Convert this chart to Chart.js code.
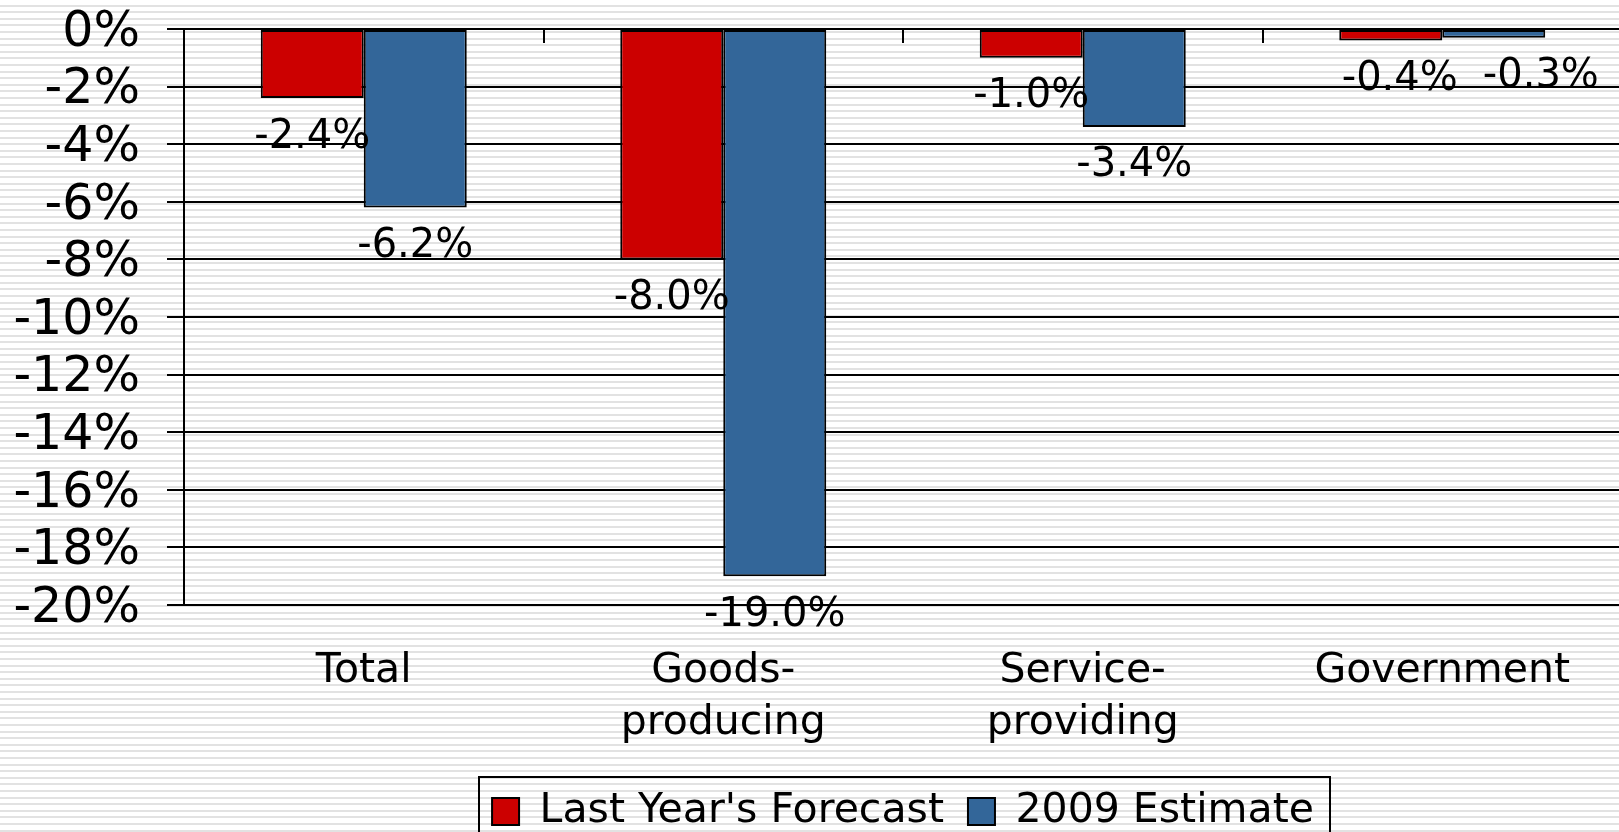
<!DOCTYPE html>
<html>
<head>
<meta charset="utf-8">
<script src="https://cdn.jsdelivr.net/npm/chart.js@4.4.0/dist/chart.umd.min.js"></script>
<style>
  html, body { margin: 0; padding: 0; overflow: hidden; }
  body {
    width: 1619px;
    height: 832px;
    background: repeating-linear-gradient(to bottom, #fff 0px, #fff 4.6px, #e2e2e2 4.6px, #e2e2e2 6.6px);
  }
  #chart { display: block; }
</style>
</head>
<body>
<canvas id="chart" width="1622" height="842"></canvas>
<script>
const categories = ['Total', ['Goods-', 'producing'], ['Service-', 'providing'], 'Government'];
const lastYearForecast = [-2.4, -8.0, -1.0, -0.4];
const estimate2009 = [-6.2, -19.0, -3.4, -0.3];
const yTickValues = [0, -2, -4, -6, -8, -10, -12, -14, -16, -18, -20];

Chart.defaults.font.family = "'DejaVu Sans', Verdana, sans-serif";
Chart.defaults.color = '#000';

// value labels under each bar end, pushed apart when two of them collide
const valueLabels = {
  id: 'valueLabels',
  afterDatasetsDraw(chart) {
    const ctx = chart.ctx;
    ctx.save();
    ctx.font = "40px 'DejaVu Sans'";
    ctx.fillStyle = '#000';
    ctx.textAlign = 'center';
    ctx.textBaseline = 'middle';
    const first = chart.getDatasetMeta(0).data;
    const second = chart.getDatasetMeta(1).data;
    categories.forEach((c, j) => {
      const a = { text: lastYearForecast[j].toFixed(1) + '%', x: first[j].x, y: first[j].y + 39 };
      const b = { text: estimate2009[j].toFixed(1) + '%', x: second[j].x, y: second[j].y + 39 };
      const wa = ctx.measureText(a.text).width;
      const wb = ctx.measureText(b.text).width;
      const need = (wa + wb) / 2 + 43 - (b.x - a.x);
      if (Math.abs(a.y - b.y) < 40 && need > 0) {
        a.x += need * 0.16;
        b.x += need * 0.84;
      }
      ctx.fillText(a.text, a.x, a.y);
      ctx.fillText(b.text, b.x, b.y);
    });
    ctx.restore();
  }
};

// y tick labels, drawn by hand so they sit a little lower on their lines
const yLabels = {
  id: 'yLabels',
  afterDraw(chart) {
    const ctx = chart.ctx;
    const ys = chart.scales.y;
    ctx.save();
    ctx.font = "49px 'DejaVu Sans'";
    ctx.fillStyle = '#000';
    ctx.textAlign = 'right';
    ctx.textBaseline = 'middle';
    ys.ticks.forEach(t => {
      ctx.fillText(t.value + '%', ys.right - 17 - 27, ys.getPixelForValue(t.value) + 4);
    });
    ctx.restore();
  }
};

// small category ticks hanging from the 0% line
const zeroTicks = {
  id: 'zeroTicks',
  afterDatasetsDraw(chart) {
    const ctx = chart.ctx;
    const xs = chart.scales.x, ys = chart.scales.y;
    const y0 = ys.getPixelForValue(0);
    ctx.save();
    ctx.strokeStyle = '#000';
    ctx.lineWidth = 2;
    ctx.beginPath();
    for (let i = 1; i < categories.length; i++) {
      const xb = Math.round((xs.getPixelForValue(i - 1) + xs.getPixelForValue(i)) / 2);
      ctx.moveTo(xb, y0);
      ctx.lineTo(xb, y0 + 14);
    }
    ctx.stroke();
    ctx.restore();
  }
};

// frame around the legend
const legendFrame = {
  id: 'legendFrame',
  afterDraw(chart) {
    const boxes = chart.legend.legendHitBoxes;
    if (!boxes || !boxes.length) return;
    const ctx = chart.ctx;
    const left = Math.min(...boxes.map(b => b.left)) - 13;
    const right = Math.max(...boxes.map(b => b.left + b.width)) + 16;
    const top = boxes[0].top - 14;
    const h = boxes[0].height + 28;
    ctx.save();
    ctx.strokeStyle = '#000';
    ctx.lineWidth = 2;
    ctx.strokeRect(Math.round(left), Math.round(top), Math.round(right - left), h);
    ctx.restore();
  }
};

new Chart(document.getElementById('chart'), {
  type: 'bar',
  data: {
    labels: categories,
    datasets: [
      {
        label: "Last Year's Forecast",
        data: lastYearForecast,
        backgroundColor: '#cc0000',
        borderColor: '#000',
        borderWidth: 2,
        borderSkipped: false
      },
      {
        label: '2009 Estimate',
        data: estimate2009,
        backgroundColor: '#336699',
        borderColor: '#000',
        borderWidth: 2,
        borderSkipped: false
      }
    ]
  },
  options: {
    responsive: false,
    animation: false,
    categoryPercentage: 0.573,
    barPercentage: 1.0,
    layout: { padding: { top: 29, left: 0, right: 0, bottom: 0 } },
    scales: {
      x: {
        grid: { display: false, drawTicks: false },
        border: { display: false },
        ticks: {
          color: '#000',
          font: { size: 41, lineHeight: 1.27 },
          padding: 40,
          maxRotation: 0,
          autoSkip: false
        },
        afterFit(s) { s.height = 162; }
      },
      y: {
        min: -20,
        max: 0,
        afterBuildTicks(s) { s.ticks = yTickValues.map(v => ({ value: v })); },
        ticks: { display: false, autoSkip: false },
        grid: { color: '#000', lineWidth: 2, tickLength: 17, drawTicks: true },
        border: { color: '#000', width: 2 },
        afterFit(s) {
          s.width = 184;
          s.paddingTop = 0;
          s.paddingBottom = 0;
        }
      }
    },
    plugins: {
      legend: {
        position: 'bottom',
        fullSize: false,
        labels: {
          color: '#000',
          font: { size: 41 },
          boxWidth: 27,
          boxHeight: 27,
          padding: 24
        }
      },
      tooltip: { enabled: false }
    }
  },
  plugins: [valueLabels, yLabels, zeroTicks, legendFrame]
});
</script>
</body>
</html>
